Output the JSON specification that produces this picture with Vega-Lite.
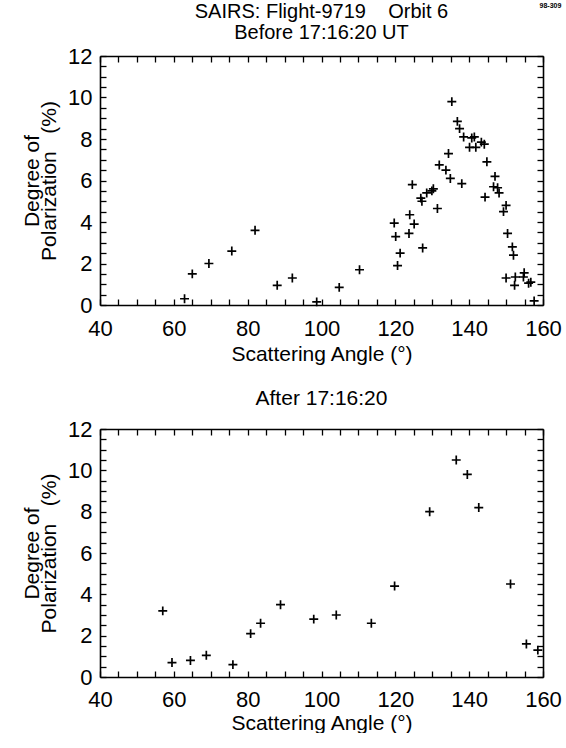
{
  "$schema": "https://vega.github.io/schema/vega-lite/v6.json",
  "background": "white",
  "padding": {"left": 21, "top": 2, "right": 0, "bottom": 0},
  "config": {
    "font": "Liberation Sans",
    "view": {"stroke": null},
    "axis": {
      "labelFont": "Liberation Sans",
      "titleFont": "Liberation Sans",
      "labelFontSize": 22,
      "titleFontSize": 21,
      "titleFontWeight": "normal",
      "labelColor": "black",
      "titleColor": "black",
      "domainColor": "black",
      "domainWidth": 1.6,
      "tickColor": "black",
      "tickWidth": 1.3,
      "tickSize": -6,
      "ticks": true,
      "grid": false
    },
    "title": {"font": "Liberation Sans", "fontSize": 21, "fontWeight": "normal", "color": "black"}
  },
  "datasets": {
    "before": [
      {"angle": 62.9, "pol": 0.3}, {"angle": 65.0, "pol": 1.5}, {"angle": 69.5, "pol": 2.0},
      {"angle": 75.7, "pol": 2.6}, {"angle": 82.0, "pol": 3.6}, {"angle": 88.0, "pol": 0.95},
      {"angle": 92.1, "pol": 1.3}, {"angle": 98.7, "pol": 0.15}, {"angle": 104.8, "pol": 0.85},
      {"angle": 110.3, "pol": 1.7}, {"angle": 119.7, "pol": 3.95}, {"angle": 120.1, "pol": 3.3},
      {"angle": 120.6, "pol": 1.9}, {"angle": 121.3, "pol": 2.5}, {"angle": 123.7, "pol": 3.45},
      {"angle": 123.9, "pol": 4.35}, {"angle": 124.6, "pol": 5.8}, {"angle": 125.1, "pol": 3.9},
      {"angle": 126.9, "pol": 5.15}, {"angle": 127.2, "pol": 5.0}, {"angle": 127.4, "pol": 2.75},
      {"angle": 128.5, "pol": 5.4}, {"angle": 129.9, "pol": 5.5}, {"angle": 130.3, "pol": 5.6},
      {"angle": 131.4, "pol": 4.65}, {"angle": 131.9, "pol": 6.75}, {"angle": 133.7, "pol": 6.5},
      {"angle": 134.4, "pol": 7.3}, {"angle": 134.9, "pol": 6.1}, {"angle": 135.3, "pol": 9.8},
      {"angle": 136.8, "pol": 8.85}, {"angle": 137.4, "pol": 8.5}, {"angle": 138.0, "pol": 5.85},
      {"angle": 138.5, "pol": 8.1}, {"angle": 140.1, "pol": 7.6}, {"angle": 140.7, "pol": 8.05},
      {"angle": 141.4, "pol": 8.1}, {"angle": 141.8, "pol": 7.6}, {"angle": 143.3, "pol": 7.85},
      {"angle": 144.1, "pol": 7.75}, {"angle": 144.3, "pol": 5.2}, {"angle": 144.8, "pol": 6.9},
      {"angle": 146.6, "pol": 5.7}, {"angle": 147.0, "pol": 6.2}, {"angle": 147.7, "pol": 5.65},
      {"angle": 148.1, "pol": 5.4}, {"angle": 149.3, "pol": 4.5}, {"angle": 150.0, "pol": 4.8},
      {"angle": 150.4, "pol": 3.45}, {"angle": 151.7, "pol": 2.8}, {"angle": 152.0, "pol": 2.4},
      {"angle": 150.0, "pol": 1.3}, {"angle": 152.5, "pol": 1.35}, {"angle": 152.3, "pol": 0.95},
      {"angle": 154.9, "pol": 1.55}, {"angle": 154.7, "pol": 1.35}, {"angle": 156.1, "pol": 1.05},
      {"angle": 156.7, "pol": 1.1}, {"angle": 157.6, "pol": 0.2}
    ],
    "after": [
      {"angle": 57.0, "pol": 3.2}, {"angle": 59.5, "pol": 0.7}, {"angle": 64.5, "pol": 0.8},
      {"angle": 68.8, "pol": 1.05}, {"angle": 76.0, "pol": 0.6}, {"angle": 80.8, "pol": 2.1},
      {"angle": 83.5, "pol": 2.6}, {"angle": 88.9, "pol": 3.5}, {"angle": 97.9, "pol": 2.8},
      {"angle": 104.0, "pol": 3.0}, {"angle": 113.5, "pol": 2.6}, {"angle": 119.8, "pol": 4.4},
      {"angle": 129.3, "pol": 8.0}, {"angle": 136.5, "pol": 10.5}, {"angle": 139.5, "pol": 9.8},
      {"angle": 142.6, "pol": 8.2}, {"angle": 151.2, "pol": 4.5}, {"angle": 155.5, "pol": 1.6},
      {"angle": 158.6, "pol": 1.3}
    ]
  },
  "title": {"text": "98-309", "anchor": "end", "fontSize": 7, "fontWeight": "bold", "offset": -7},
  "spacing": 24,
  "vconcat": [
    {
      "title": {"text": ["SAIRS: Flight-9719\u00a0\u00a0\u00a0\u00a0Orbit 6", "Before 17:16:20 UT"], "fontSize": 20, "lineHeight": 21, "offset": 2},
      "width": 443,
      "height": 249,
      "data": {"name": "before"},
      "layer": [
        {
          "mark": {"type": "point", "shape": "M-1,0H1M0,-1V1", "filled": false, "stroke": "black", "strokeWidth": 1.7, "size": 80, "opacity": 1},
          "encoding": {
            "x": {"field": "angle", "type": "quantitative", "scale": {"domain": [40, 160], "nice": false, "zero": false},
              "axis": {"orient": "bottom", "title": "Scattering Angle (°)", "values": [40,45,50,55,60,65,70,75,80,85,90,95,100,105,110,115,120,125,130,135,140,145,150,155,160],
                "labelExpr": "datum.value % 20 === 0 ? format(datum.value, 'd') : ''",
                "labelPadding": 19, "titlePadding": 4, "labelFlush": false}},
            "y": {"field": "pol", "type": "quantitative", "scale": {"domain": [0, 12], "nice": false},
              "axis": {"orient": "left", "title": ["Degree of", "Polarization\u00a0\u00a0\u00a0(%)"], "titleLineHeight": 17, "values": [0,0.5,1,1.5,2,2.5,3,3.5,4,4.5,5,5.5,6,6.5,7,7.5,8,8.5,9,9.5,10,10.5,11,11.5,12],
                "labelExpr": "datum.value % 2 === 0 ? format(datum.value, 'd') : ''",
                "labelPadding": 14, "titlePadding": 8}}
          }
        },
        {
          "mark": {"type": "point", "opacity": 0},
          "encoding": {
            "x": {"field": "angle", "type": "quantitative",
              "axis": {"orient": "top", "title": null, "labels": false, "values": [40,45,50,55,60,65,70,75,80,85,90,95,100,105,110,115,120,125,130,135,140,145,150,155,160]}},
            "y": {"field": "pol", "type": "quantitative",
              "axis": {"orient": "right", "title": null, "labels": false, "values": [0,0.5,1,1.5,2,2.5,3,3.5,4,4.5,5,5.5,6,6.5,7,7.5,8,8.5,9,9.5,10,10.5,11,11.5,12]}}
          }
        }
      ],
      "resolve": {"axis": {"x": "independent", "y": "independent"}}
    },
    {
      "title": {"text": "After 17:16:20", "offset": 9},
      "width": 443,
      "height": 248,
      "data": {"name": "after"},
      "layer": [
        {
          "mark": {"type": "point", "shape": "M-1,0H1M0,-1V1", "filled": false, "stroke": "black", "strokeWidth": 1.7, "size": 80, "opacity": 1},
          "encoding": {
            "x": {"field": "angle", "type": "quantitative", "scale": {"domain": [40, 160], "nice": false, "zero": false},
              "axis": {"orient": "bottom", "title": "Scattering Angle (°)", "values": [40,45,50,55,60,65,70,75,80,85,90,95,100,105,110,115,120,125,130,135,140,145,150,155,160],
                "labelExpr": "datum.value % 20 === 0 ? format(datum.value, 'd') : ''",
                "labelPadding": 18, "titlePadding": 2, "labelFlush": false}},
            "y": {"field": "pol", "type": "quantitative", "scale": {"domain": [0, 12], "nice": false},
              "axis": {"orient": "left", "title": ["Degree of", "Polarization\u00a0\u00a0\u00a0(%)"], "titleLineHeight": 17, "values": [0,0.5,1,1.5,2,2.5,3,3.5,4,4.5,5,5.5,6,6.5,7,7.5,8,8.5,9,9.5,10,10.5,11,11.5,12],
                "labelExpr": "datum.value % 2 === 0 ? format(datum.value, 'd') : ''",
                "labelPadding": 14, "titlePadding": 8}}
          }
        },
        {
          "mark": {"type": "point", "opacity": 0},
          "encoding": {
            "x": {"field": "angle", "type": "quantitative",
              "axis": {"orient": "top", "title": null, "labels": false, "values": [40,45,50,55,60,65,70,75,80,85,90,95,100,105,110,115,120,125,130,135,140,145,150,155,160]}},
            "y": {"field": "pol", "type": "quantitative",
              "axis": {"orient": "right", "title": null, "labels": false, "values": [0,0.5,1,1.5,2,2.5,3,3.5,4,4.5,5,5.5,6,6.5,7,7.5,8,8.5,9,9.5,10,10.5,11,11.5,12]}}
          }
        }
      ],
      "resolve": {"axis": {"x": "independent", "y": "independent"}}
    }
  ]
}
